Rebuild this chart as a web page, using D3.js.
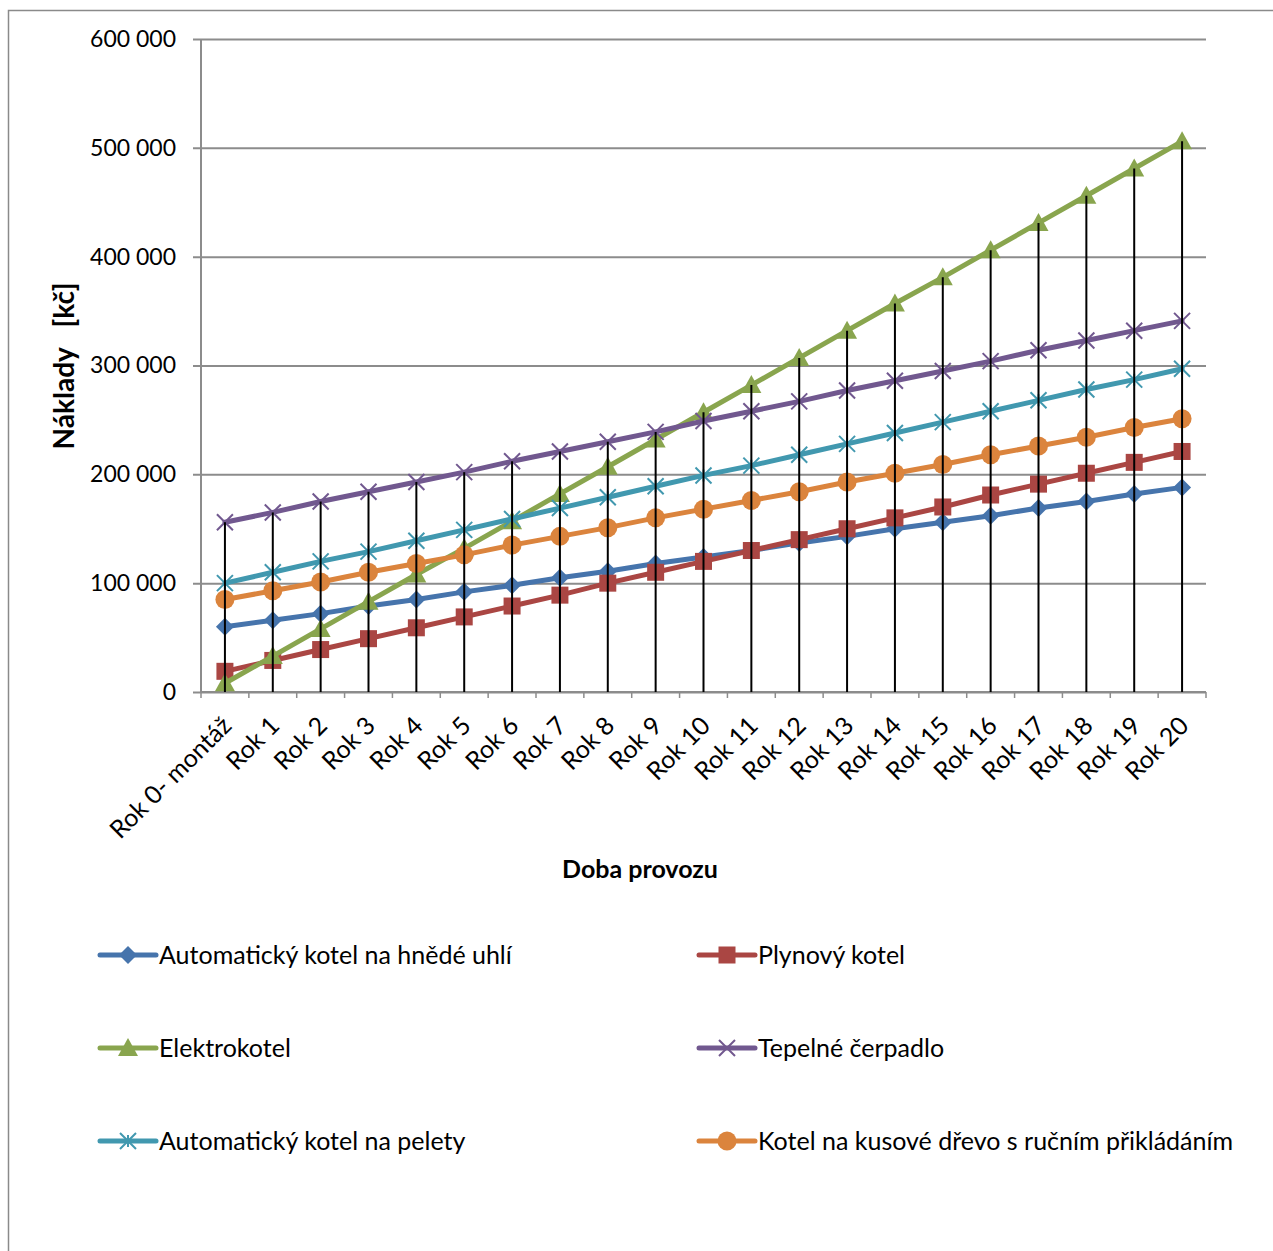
<!DOCTYPE html>
<html>
<head>
<meta charset="utf-8">
<script src="https://cdn.jsdelivr.net/npm/d3@7"></script>
<style>
  html, body { margin: 0; padding: 0; background: #fff; }
  svg { display: block; font-family: Lato, "Open Sans", sans-serif; }
</style>
</head>
<body>
<svg id="chart" width="1273" height="1251"></svg>
<script>
// Categories: years of operation
const categories = ["Rok 0- montáž", "Rok 1", "Rok 2", "Rok 3", "Rok 4", "Rok 5", "Rok 6", "Rok 7",
  "Rok 8", "Rok 9", "Rok 10", "Rok 11", "Rok 12", "Rok 13", "Rok 14", "Rok 15", "Rok 16",
  "Rok 17", "Rok 18", "Rok 19", "Rok 20"];

// Cumulative costs [Kč] per heating source
const hnedeUhli = [60000, 66000, 72000, 79000, 85000, 92000, 98000, 105000, 111000, 118000, 124000,
  130000, 137000, 143000, 150000, 156000, 162000, 169000, 175000, 182000, 188000];
const plynovy = [19000, 29000, 39000, 49000, 59000, 69000, 79000, 89000, 100000, 110000, 120000,
  130000, 140000, 150000, 160000, 170000, 181000, 191000, 201000, 211000, 221000];
const elektrokotel = [8000, 33000, 58000, 83000, 108000, 132000, 157000, 182000, 207000, 232000, 257000,
  282000, 307000, 332000, 357000, 381000, 406000, 431000, 456000, 481000, 506000];
const tepelneCerpadlo = [156000, 165000, 175000, 184000, 193000, 202000, 212000, 221000, 230000, 239000, 249000,
  258000, 267000, 277000, 286000, 295000, 304000, 314000, 323000, 332000, 341000];
const pelety = [100000, 110000, 120000, 129000, 139000, 149000, 159000, 169000, 179000, 189000, 199000,
  208000, 218000, 228000, 238000, 248000, 258000, 268000, 278000, 287000, 297000];
const kusoveDrevo = [85000, 93000, 101000, 110000, 118000, 126000, 135000, 143000, 151000, 160000, 168000,
  176000, 184000, 193000, 201000, 209000, 218000, 226000, 234000, 243000, 251000];

const seriesNames = ["Automatický kotel na hnědé uhlí", "Plynový kotel", "Elektrokotel",
  "Tepelné čerpadlo", "Automatický kotel na pelety", "Kotel na kusové dřevo s ručním přikládáním"];
const seriesValues = [hnedeUhli, plynovy, elektrokotel, tepelneCerpadlo, pelety, kusoveDrevo];
const seriesColors = ["#4674AC", "#AA4643", "#89A54E", "#71588F", "#4198AF", "#DB843D"];
const seriesMarkers = ["diamond", "square", "triangle", "cross", "star", "circle"];

const yTicks = [0, 100000, 200000, 300000, 400000, 500000, 600000];
const yTitle = "Náklady   [kč]";
const xTitle = "Doba provozu";

const svg = d3.select("#chart");

// Outer chart frame
svg.append("rect")
  .attr("x", 8.5).attr("y", 10.5)
  .attr("width", 1300).attr("height", 1300)
  .attr("fill", "none").attr("stroke", "#8a8a8a").attr("stroke-width", 1.5);

const plot = { left: 201, right: 1206, top: 39, bottom: 692 };

const x = d3.scaleBand().domain(categories).range([plot.left, plot.right]).padding(0);
const cx = c => x(c) + x.bandwidth() / 2;
const y = d3.scaleLinear().domain([0, 600000]).range([plot.bottom, plot.top]);

const locale = d3.formatLocale({ decimal: ",", thousands: " ", grouping: [3], currency: ["", ""] });
const fmt = locale.format(",");

// Horizontal gridlines and value axis
const yAxis = d3.axisLeft(y).tickValues(yTicks).tickFormat(fmt)
  .tickSize(-(plot.right - plot.left)).tickSizeOuter(0).tickPadding(25);
const gy = svg.append("g").attr("transform", `translate(${plot.left},0)`).call(yAxis);
gy.select(".domain").remove();
gy.selectAll(".tick line").attr("x1", -8).attr("stroke", "#8c8c8c").attr("stroke-width", 2);
gy.selectAll(".tick text").attr("font-size", 23).attr("fill", "#000")
  .style("font-family", "Lato, sans-serif");

// Vertical value axis line
svg.append("line")
  .attr("x1", plot.left).attr("x2", plot.left)
  .attr("y1", plot.top).attr("y2", plot.bottom)
  .attr("stroke", "#8c8c8c").attr("stroke-width", 2);

// Category axis with tick marks at band boundaries
const gx = svg.append("g");
gx.append("line")
  .attr("x1", plot.left).attr("x2", plot.right)
  .attr("y1", plot.bottom).attr("y2", plot.bottom)
  .attr("stroke", "#8c8c8c").attr("stroke-width", 2);
gx.selectAll("line.tk")
  .data(categories.concat([null]))
  .join("line").attr("class", "tk")
  .attr("x1", (d, i) => plot.left + i * x.bandwidth())
  .attr("x2", (d, i) => plot.left + i * x.bandwidth())
  .attr("y1", plot.bottom).attr("y2", plot.bottom + 6)
  .attr("stroke", "#8c8c8c").attr("stroke-width", 1.5);
gx.selectAll("text")
  .data(categories)
  .join("text")
  .attr("transform", d => `translate(${cx(d) + 2},${plot.bottom + 29}) rotate(-45)`)
  .attr("text-anchor", "end")
  .attr("dy", "0.35em")
  .attr("font-size", 25)
  .attr("fill", "#000")
  .text(d => d);

// Axis titles
svg.append("text")
  .attr("x", 640).attr("y", 869).attr("dy", "0.35em")
  .attr("text-anchor", "middle").attr("font-size", 25).attr("font-weight", "bold")
  .text(xTitle);
svg.append("text")
  .attr("transform", "translate(64,366) rotate(-90)")
  .attr("dy", "0.35em")
  .attr("text-anchor", "middle").attr("font-size", 28).attr("font-weight", "bold")
  .style("white-space", "pre")
  .text(yTitle);

// Marker shapes
function drawMarker(g, type, color) {
  switch (type) {
    case "diamond":
      g.append("path").attr("d", "M0,-9L9,0L0,9L-9,0Z").attr("fill", color);
      break;
    case "square":
      g.append("rect").attr("x", -8.5).attr("y", -8.5).attr("width", 17).attr("height", 17).attr("fill", color);
      break;
    case "triangle":
      g.append("path").attr("d", "M0,-10L10,8L-10,8Z").attr("fill", color);
      break;
    case "cross":
      g.append("path").attr("d", "M-8,-8L8,8M-8,8L8,-8").attr("stroke", color).attr("stroke-width", 2).attr("fill", "none");
      break;
    case "star":
      g.append("path").attr("d", "M-8,-8L8,8M-8,8L8,-8M0,-6L0,6").attr("stroke", color).attr("stroke-width", 2).attr("fill", "none");
      break;
    case "circle":
      g.append("circle").attr("r", 9.5).attr("fill", color);
      break;
  }
}

// Series lines and markers
const line = d3.line().x((d, i) => cx(categories[i])).y(d => y(d));
const gs = svg.append("g");
seriesValues.forEach((vals, s) => {
  const g = gs.append("g");
  g.append("path")
    .attr("d", line(vals))
    .attr("fill", "none")
    .attr("stroke", seriesColors[s])
    .attr("stroke-width", 5)
    .attr("stroke-linejoin", "round")
    .attr("stroke-linecap", "round");
  vals.forEach((v, i) => {
    const m = g.append("g").attr("transform", `translate(${cx(categories[i])},${y(v)})`);
    drawMarker(m, seriesMarkers[s], seriesColors[s]);
  });
});

// Drop lines from the highest series value down to the category axis
svg.append("g").selectAll("line")
  .data(categories)
  .join("line")
  .attr("x1", d => cx(d)).attr("x2", d => cx(d))
  .attr("y1", (d, i) => y(d3.max(seriesValues, s => s[i])))
  .attr("y2", y(0))
  .attr("stroke", "#000").attr("stroke-width", 2);

// Legend (two columns, three rows)
const legendRows = [955, 1048, 1141];
const legendCols = [100, 699];
seriesNames.forEach((name, s) => {
  const lx = legendCols[s % 2];
  const ly = legendRows[Math.floor(s / 2)];
  const g = svg.append("g").attr("transform", `translate(${lx},${ly})`);
  g.append("line").attr("x1", 0).attr("x2", 56).attr("y1", 0).attr("y2", 0)
    .attr("stroke", seriesColors[s]).attr("stroke-width", 5).attr("stroke-linecap", "round");
  drawMarker(g.append("g").attr("transform", "translate(28,0)"), seriesMarkers[s], seriesColors[s]);
  g.append("text").attr("x", 59).attr("dy", "0.35em")
    .attr("font-size", 25).attr("fill", "#000").text(name);
});
</script>
</body>
</html>
